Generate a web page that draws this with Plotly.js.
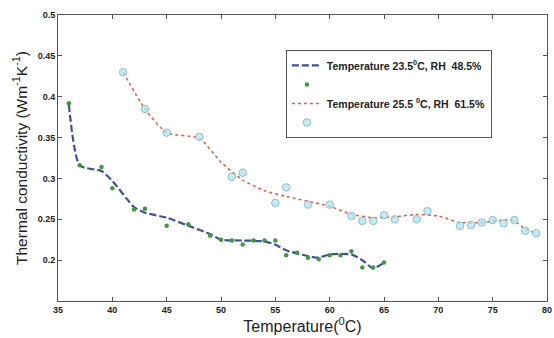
<!DOCTYPE html>
<html>
<head>
<meta charset="utf-8">
<script src="https://cdn.plot.ly/plotly-3.0.1.min.js"></script>
<style>html,body{margin:0;padding:0;background:#fff;}#chart{width:554px;height:338px;}</style>
</head>
<body>
<div id="chart"></div>
<script>
// Series 1: Temperature 23.5 C, RH 48.5% (measured points)
const t1 = [36, 37, 39, 40, 42, 43, 45, 47, 49, 50, 51, 52, 53, 54, 55, 56, 57, 58, 59, 60, 61, 62, 63, 64, 65];
const k1 = [0.392, 0.316, 0.314, 0.288, 0.262, 0.263, 0.242, 0.244, 0.230, 0.225, 0.224, 0.219, 0.224, 0.224, 0.224, 0.206, 0.209, 0.203, 0.201, 0.206, 0.206, 0.211, 0.191, 0.191, 0.197];
// Series 1 fitted curve
const t1fit = [36, 37, 39, 40, 42, 43, 45, 47, 49, 50, 52, 54, 55, 56, 58, 59, 60, 62, 63, 64, 65];
const k1fit = [0.390, 0.316, 0.309, 0.297, 0.265, 0.258, 0.252, 0.242, 0.232, 0.225, 0.224, 0.223, 0.219, 0.212, 0.205, 0.203, 0.207, 0.207, 0.200, 0.190, 0.197];

// Series 2: Temperature 25.5 C, RH 61.5% (measured points)
const t2 = [41, 43, 45, 48, 51, 52, 55, 56, 58, 60, 62, 63, 64, 65, 66, 68, 69, 72, 73, 74, 75, 76, 77, 78, 79];
const k2 = [0.430, 0.385, 0.356, 0.351, 0.302, 0.307, 0.270, 0.289, 0.268, 0.268, 0.254, 0.248, 0.248, 0.255, 0.250, 0.250, 0.260, 0.242, 0.243, 0.246, 0.249, 0.245, 0.249, 0.236, 0.233];
// Series 2 fitted curve
const t2fit = [41, 43, 45, 48, 50, 52, 54, 56, 58, 60, 62, 64, 66, 68, 70, 72, 74, 76, 77, 78, 79];
const k2fit = [0.430, 0.385, 0.356, 0.349, 0.320, 0.298, 0.285, 0.278, 0.272, 0.266, 0.256, 0.252, 0.253, 0.256, 0.254, 0.246, 0.246, 0.249, 0.248, 0.238, 0.233];

const name1 = 'Temperature 23.5<sup>0</sup>C, RH  48.5%';
const name2 = 'Temperature 25.5 <sup>0</sup>C, RH  61.5%';
const xTicks = [35, 40, 45, 50, 55, 60, 65, 70, 75, 80];
const yTicks = [0.2, 0.25, 0.3, 0.35, 0.4, 0.45, 0.5];
const yTickText = ['0.2', '0.25', '0.3', '0.35', '0.4', '0.45', '0.5'];

const traces = [
  {x: t1fit, y: k1fit, mode: 'lines', name: name1, line: {color: '#3d4f9e', width: 2.2, dash: '7px,3px', shape: 'spline', smoothing: 0.6}},
  {x: t1, y: k1, mode: 'markers', name: ' ', marker: {color: '#3e9a3c', size: 4.5, symbol: 'circle'}},
  {x: t2fit, y: k2fit, mode: 'lines', name: name2, line: {color: '#ea5a3c', width: 1.5, dash: 'dot', shape: 'spline', smoothing: 0.6}},
  {x: t2, y: k2, mode: 'markers', name: ' ', marker: {color: 'rgba(180,225,238,0.75)', size: 7.5, symbol: 'circle', line: {color: '#86c2d6', width: 1}}}
];

const axisCommon = {
  showgrid: false, zeroline: false, showline: true, mirror: 'ticks', linecolor: '#555', linewidth: 1,
  ticks: 'inside', ticklen: 4, tickcolor: '#555',
  tickfont: {family: 'Liberation Sans, Arial, sans-serif', size: 9, color: '#222', weight: 'bold'}
};

const layout = {
  width: 554, height: 338,
  margin: {l: 58, r: 7, t: 15, b: 37},
  paper_bgcolor: '#fff', plot_bgcolor: '#fff',
  showlegend: true,
  xaxis: Object.assign({}, axisCommon, {
    range: [35, 80], tickvals: xTicks,
    title: {text: 'Temperature(<sup>0</sup>C)', font: {family: 'Liberation Sans, Arial, sans-serif', size: 16, color: '#222'}, standoff: 2}
  }),
  yaxis: Object.assign({}, axisCommon, {
    range: [0.15, 0.5], tickvals: yTicks, ticktext: yTickText,
    title: {text: 'Thermal conductivity (Wm<sup>-1</sup>K<sup>-1</sup>)', font: {family: 'Liberation Sans, Arial, sans-serif', size: 15.5, color: '#222'}, standoff: 6}
  }),
  legend: {
    x: 0.466, y: 0.878, xanchor: 'left', yanchor: 'top',
    bgcolor: '#fff', bordercolor: '#555', borderwidth: 1,
    font: {family: 'Liberation Sans, Arial, sans-serif', size: 10.5, color: '#222', weight: 'bold'},
    tracegroupgap: 0, itemwidth: 30
  }
};

Plotly.newPlot('chart', traces, layout, {displayModeBar: false, staticPlot: true});
</script>
</body>
</html>
